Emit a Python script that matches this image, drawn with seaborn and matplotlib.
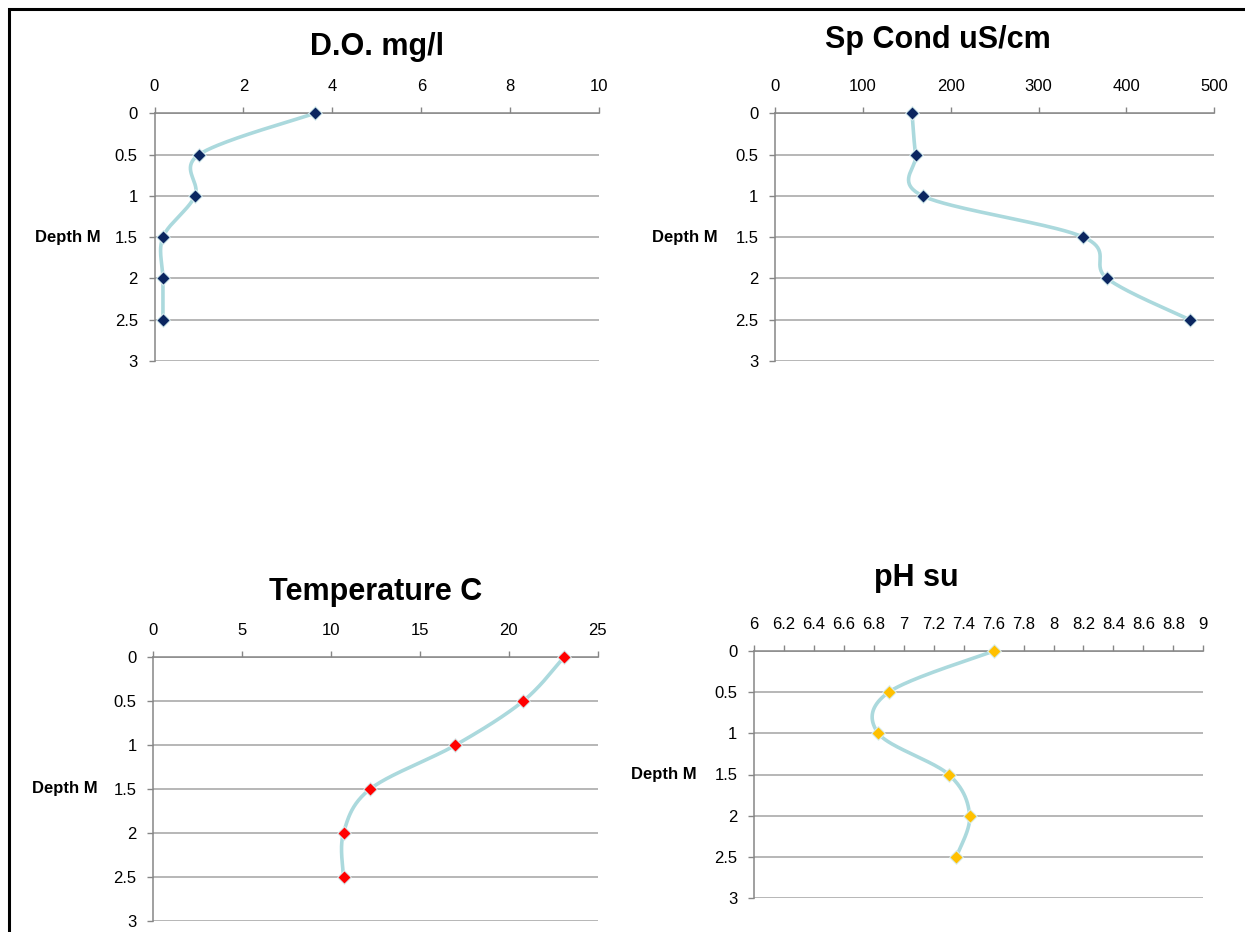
import numpy as np
import matplotlib.pyplot as plt
import matplotlib.patches as patches
import seaborn as sns

sns.set_style("white")
plt.rcParams["font.family"] = ["Liberation Sans", "DejaVu Sans"]
plt.rcParams["text.color"] = "black"
plt.rcParams["axes.labelcolor"] = "black"
plt.rcParams["xtick.labelcolor"] = "black"
plt.rcParams["ytick.labelcolor"] = "black"

# depth profile readings
DEPTH = [0, 0.5, 1, 1.5, 2, 2.5]
DO_MGL = [3.6, 1.0, 0.91, 0.19, 0.19, 0.19]
SPCOND = [156, 160, 168, 351, 378, 472]
TEMP_C = [23.1, 20.8, 17.0, 12.2, 10.7, 10.7]
PH_SU = [7.60, 6.90, 6.83, 7.30, 7.44, 7.35]

DEPTH_TICKS = [0, 0.5, 1, 1.5, 2, 2.5, 3]
DO_TICKS = [0, 2, 4, 6, 8, 10]
SPCOND_TICKS = [0, 100, 200, 300, 400, 500]
TEMP_TICKS = [0, 5, 10, 15, 20, 25]
PH_TICKS = [6, 6.2, 6.4, 6.6, 6.8, 7, 7.2, 7.4, 7.6, 7.8, 8, 8.2, 8.4, 8.6, 8.8, 9]

LINE_COLOR = "#abd9dd"
AXIS_COLOR = "#868686"
GRID_COLOR = "#a3a3a3"

W, H = 1245, 932


def smooth_curve(xs, ys, x0, x1, w, h, n=40):
    # Excel-like smoothing: bezier segments with catmull-rom control points,
    # worked out in pixel space so both axes count the same
    pts = np.column_stack([(np.array(xs) - x0) / (x1 - x0) * w, np.array(ys) / 3 * h])
    ext = np.vstack([pts[0], pts, pts[-1]])
    t = np.linspace(0, 1, n)[:, None]
    out = []
    for i in range(len(pts) - 1):
        p0, p1, p2, p3 = ext[i], ext[i + 1], ext[i + 2], ext[i + 3]
        c1 = p1 + (p2 - p0) / 6
        c2 = p2 - (p3 - p1) / 6
        seg = (1 - t) ** 3 * p1 + 3 * (1 - t) ** 2 * t * c1 + 3 * (1 - t) * t ** 2 * c2 + t ** 3 * p2
        out.append(seg if i == 0 else seg[1:])
    out = np.vstack(out)
    return out[:, 0] / w * (x1 - x0) + x0, out[:, 1] / h * 3


def panel(fig, rect_px, values, xticks, marker_color, label_x, title, title_px):
    left, top, right, bottom = rect_px
    ax = fig.add_axes([left / W, 1 - bottom / H, (right - left) / W, (bottom - top) / H])
    x0, x1 = xticks[0], xticks[-1]

    cx, cy = smooth_curve(values, DEPTH, x0, x1, right - left, bottom - top)
    sns.lineplot(x=cx, y=cy, sort=False, estimator=None, ax=ax, color=LINE_COLOR, lw=2.6,
                 zorder=3, clip_on=False)
    sns.scatterplot(x=values, y=DEPTH, ax=ax, marker="D", s=48, color=marker_color,
                    edgecolor="#d8eef0", linewidth=0.8, zorder=4, clip_on=False)

    ax.set_xlim(x0, x1)
    ax.set_ylim(3, 0)
    ax.set_xticks(xticks)
    ax.set_xticklabels([f"{v:g}" for v in xticks])
    ax.set_yticks(DEPTH_TICKS)
    ax.set_yticklabels([f"{v:g}" for v in DEPTH_TICKS])
    ax.xaxis.tick_top()
    ax.tick_params(axis="x", top=True, bottom=False, labeltop=True, labelbottom=False,
                   direction="out", length=4, width=1, color=AXIS_COLOR, pad=10, labelsize=12)
    ax.tick_params(axis="y", left=True, direction="out", length=4, width=1,
                   color=AXIS_COLOR, pad=8, labelsize=12)
    ax.yaxis.grid(True, color=GRID_COLOR, lw=1.1)
    ax.xaxis.grid(False)
    for s in ["right", "bottom"]:
        ax.spines[s].set_visible(False)
    for s in ["top", "left"]:
        ax.spines[s].set_color(AXIS_COLOR)
        ax.spines[s].set_linewidth(1.1)
    ax.set_xlabel("")
    ax.set_ylabel("Depth M", rotation=0, fontsize=12, fontweight="bold", ha="right", va="center")
    ax.yaxis.set_label_coords(label_x, 0.5)

    fig.text(title_px[0] / W, 1 - title_px[1] / H, title, fontsize=22, fontweight="bold",
             ha="center", va="center")
    return ax


fig = plt.figure(figsize=(W / 100, H / 100), dpi=100)

panel(fig, (154.5, 113.3, 599.3, 361), DO_MGL, DO_TICKS, "#0b2660", -0.12, "D.O. mg/l", (377, 47))
panel(fig, (775, 113.3, 1214.3, 361), SPCOND, SPCOND_TICKS, "#0b2660", -0.13, "Sp Cond uS/cm", (938, 40))
panel(fig, (153.3, 657.3, 597.7, 920.7), TEMP_C, TEMP_TICKS, "#ff0000", -0.126, "Temperature C", (376, 592))
panel(fig, (754, 651, 1203.3, 898), PH_SU, PH_TICKS, "#ffc000", -0.127, "pH su", (916, 578))

fig.add_artist(patches.Rectangle((8.5 / W, -0.1), 1.2, 1.1 - 8.5 / H, transform=fig.transFigure,
                                 fill=False, lw=2.2, ec="black"))

fig.savefig("out.png", dpi=100)
